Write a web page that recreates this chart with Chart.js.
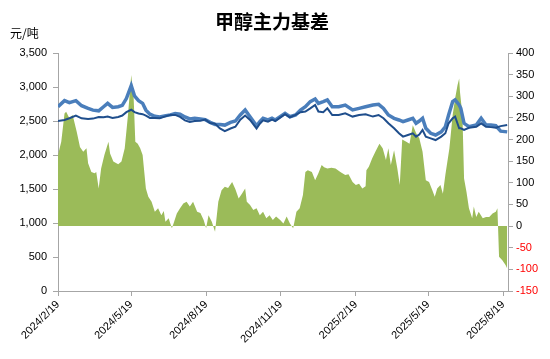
<!DOCTYPE html>
<html>
<head>
<meta charset="utf-8">
<script src="https://cdn.jsdelivr.net/npm/chart.js@4.4.1/dist/chart.umd.min.js"></script>
<style>
  html, body { margin: 0; padding: 0; background: #fff; }
  #wrap { width: 550px; height: 359px; }
</style>
</head>
<body>
<div id="wrap"><canvas id="basisChart" width="550" height="359"></canvas></div>
<script>
const chartTitle = '甲醇主力基差';
const unitLabel = '元/吨';
const tickLabels = ['2024/2/19', '2024/5/19', '2024/8/19', '2024/11/19', '2025/2/19', '2025/5/19', '2025/8/19'];
const lastDate = '2025-08-25';

// spot (light blue) and futures (dark blue), left axis
const lineDates = [
  '2024-02-19','2024-02-27','2024-03-04','2024-03-12','2024-03-19','2024-03-27','2024-04-02','2024-04-09',
  '2024-04-15','2024-04-20','2024-04-26','2024-05-03','2024-05-08','2024-05-13','2024-05-19','2024-05-23',
  '2024-05-28','2024-06-02','2024-06-06','2024-06-11','2024-06-17','2024-06-23','2024-06-29','2024-07-06',
  '2024-07-12','2024-07-18','2024-07-24','2024-07-30','2024-08-05','2024-08-12','2024-08-18','2024-08-24',
  '2024-08-30','2024-09-05','2024-09-11','2024-09-18','2024-09-24','2024-09-30','2024-10-06','2024-10-12',
  '2024-10-20','2024-10-24','2024-10-28','2024-11-03','2024-11-08','2024-11-12','2024-11-18','2024-11-24',
  '2024-11-30','2024-12-07','2024-12-13','2024-12-19','2024-12-25','2024-12-31','2025-01-04','2025-01-10',
  '2025-01-15','2025-01-21','2025-01-29','2025-02-06','2025-02-15','2025-02-23','2025-03-03','2025-03-12',
  '2025-03-19','2025-03-25','2025-03-31','2025-04-07','2025-04-13','2025-04-18','2025-04-24','2025-04-30',
  '2025-05-04','2025-05-08','2025-05-12','2025-05-16','2025-05-22','2025-05-28','2025-06-04','2025-06-09',
  '2025-06-13','2025-06-18','2025-06-21','2025-06-26','2025-06-28','2025-07-02','2025-07-08','2025-07-17',
  '2025-07-23','2025-07-29','2025-08-04','2025-08-10','2025-08-16','2025-08-24'
];
const spotPrice = [
  2710, 2800, 2770, 2800, 2725, 2685, 2660, 2650, 2710, 2760, 2700, 2710, 2730, 2830, 3020, 2870,
  2800, 2760, 2660, 2600, 2570, 2560, 2575, 2590, 2610, 2600, 2560, 2530, 2540, 2530, 2520, 2480,
  2450, 2450, 2440, 2480, 2500, 2588, 2662, 2563, 2430, 2490, 2540, 2515, 2540, 2515, 2565, 2613,
  2563, 2588, 2662, 2710, 2785, 2824, 2760, 2785, 2809, 2710, 2710, 2735, 2662, 2686, 2710, 2735,
  2745, 2686, 2588, 2540, 2515, 2490, 2515, 2540, 2466, 2500, 2540, 2392, 2319, 2294, 2340, 2416,
  2588, 2784, 2810, 2735, 2686, 2466, 2416, 2441, 2540, 2441, 2440, 2430, 2350, 2340
];
const futuresPrice = [
  2500, 2515, 2540, 2580, 2540, 2530, 2535, 2560, 2555, 2565, 2545, 2560, 2580, 2630, 2665, 2630,
  2610, 2600, 2580, 2545, 2545, 2540, 2565, 2590, 2590, 2560, 2510, 2485, 2500, 2505, 2520, 2470,
  2460, 2390, 2350, 2390, 2415, 2520, 2580, 2515, 2390, 2460, 2510, 2490, 2520, 2500, 2550, 2600,
  2555, 2590, 2630, 2640, 2686, 2735, 2640, 2630, 2686, 2588, 2588, 2613, 2565, 2588, 2600, 2565,
  2588, 2540, 2466, 2392, 2319, 2270, 2294, 2319, 2270, 2300, 2368, 2270, 2245, 2220, 2270, 2320,
  2466, 2540, 2565, 2392, 2392, 2370, 2400, 2416, 2466, 2416, 2410, 2400, 2425, 2440
];

// basis (green area), right axis
const basisDates = [
  '2024-02-19','2024-02-23','2024-02-27','2024-02-29','2024-03-04','2024-03-08','2024-03-13','2024-03-17',
  '2024-03-21','2024-03-25','2024-03-27','2024-03-31','2024-04-04','2024-04-06','2024-04-09','2024-04-12',
  '2024-04-16','2024-04-21','2024-04-23','2024-04-27','2024-05-03','2024-05-07','2024-05-11','2024-05-15',
  '2024-05-19','2024-05-22','2024-05-24','2024-05-27','2024-05-30','2024-06-02','2024-06-06','2024-06-09',
  '2024-06-13','2024-06-17','2024-06-21','2024-06-25','2024-06-28','2024-06-30','2024-07-04','2024-07-06',
  '2024-07-08','2024-07-10','2024-07-14','2024-07-18','2024-07-22','2024-07-26','2024-07-30','2024-08-03',
  '2024-08-08','2024-08-12','2024-08-16','2024-08-19','2024-08-22','2024-08-26','2024-08-30','2024-09-03',
  '2024-09-07','2024-09-11','2024-09-15','2024-09-20','2024-09-24','2024-09-28','2024-10-02','2024-10-06',
  '2024-10-08','2024-10-12','2024-10-16','2024-10-20','2024-10-24','2024-10-28','2024-11-01','2024-11-05',
  '2024-11-09','2024-11-13','2024-11-18','2024-11-22','2024-11-26','2024-11-30','2024-12-04','2024-12-08',
  '2024-12-12','2024-12-16','2024-12-19','2024-12-22','2024-12-27','2024-12-31','2025-01-04','2025-01-08',
  '2025-01-11','2025-01-15','2025-01-20','2025-01-25','2025-01-31','2025-02-06','2025-02-10','2025-02-15',
  '2025-02-19','2025-02-23','2025-02-27','2025-03-03','2025-03-04','2025-03-07','2025-03-11','2025-03-15',
  '2025-03-20','2025-03-24','2025-03-28','2025-03-31','2025-04-03','2025-04-07','2025-04-11','2025-04-14',
  '2025-04-17','2025-04-22','2025-04-26','2025-04-30','2025-05-04','2025-05-08','2025-05-12','2025-05-16',
  '2025-05-20','2025-05-24','2025-05-27','2025-05-30','2025-06-03','2025-06-06','2025-06-09','2025-06-14',
  '2025-06-18','2025-06-21','2025-06-24','2025-06-26','2025-06-27','2025-06-30','2025-07-02','2025-07-05',
  '2025-07-08','2025-07-12','2025-07-14','2025-07-17','2025-07-20','2025-07-25','2025-07-29','2025-08-02',
  '2025-08-06','2025-08-10','2025-08-12','2025-08-14','2025-08-18','2025-08-22','2025-08-24'
];
const basisValues = [
  164, 195, 260, 264, 249, 257, 218, 183,
  172, 180, 145, 125, 122, 125, 87, 133,
  164, 195, 168, 149, 143, 149, 180, 257,
  349, 295, 195, 190, 180, 164, 87, 68,
  56, 33, 41, 25, 35, 10, 18, 6,
  -5, 6, 29, 41, 52, 56, 45, 56,
  33, 30, 14, -5, 25, 10, -13, 56,
  83, 91, 88, 102, 85, 64, 75, 87,
  56, 49, 37, 41, 25, 33, 18, 25,
  14, 22, 14, 6, 22, 6, -5, 33,
  41, 72, 125, 129, 125, 106, 122, 141,
  136, 133, 135, 133, 125, 118, 120, 102,
  95, 98, 87, 92, 129, 137, 156, 172,
  190, 180, 153, 180, 141, 175, 133, 95,
  200, 195, 190, 233, 215, 203, 172, 106,
  102, 83, 68, 87, 95, 75, 118, 180,
  257, 295, 326, 341, 310, 257, 110, 79,
  41, 18, 45, 21, 33, 18, 21, 21,
  29, 33, 41, -71, -79, -90, -98
];

const startMs = Date.UTC(2024, 1, 19);
const toDay = s => {
  const p = s.split(/[-/]/).map(Number);
  return Math.round((Date.UTC(p[0], p[1] - 1, p[2]) - startMs) / 86400000);
};
const tickDays = tickLabels.map(toDay);
const toPoints = (dates, vals) => dates.map((d, i) => ({ x: toDay(d), y: vals[i] }));

const axisColor = '#a6a6a6';
const tickFont = { family: '"Liberation Sans", Arial, sans-serif', size: 11 };

const textPlugin = {
  id: 'texts',
  afterDraw(chart) {
    const ctx = chart.ctx;
    ctx.save();
    ctx.fillStyle = '#000';
    ctx.textBaseline = 'middle';
    ctx.textAlign = 'center';
    ctx.font = 'bold 19px "Noto Sans CJK SC", sans-serif';
    ctx.fillText(chartTitle, 272, 22);
    ctx.textAlign = 'left';
    ctx.font = '12px "Noto Sans CJK SC", sans-serif';
    ctx.fillText(unitLabel, 10, 33);
    ctx.restore();
  }
};

new Chart(document.getElementById('basisChart'), {
  type: 'line',
  data: {
    datasets: [
      {
        label: '基差',
        data: toPoints(basisDates, basisValues),
        yAxisID: 'y1',
        fill: 'origin',
        backgroundColor: '#9BBB59',
        borderWidth: 0,
        pointRadius: 0,
        order: 3
      },
      {
        label: '现货',
        data: toPoints(lineDates, spotPrice),
        yAxisID: 'y',
        borderColor: '#4A7EBB',
        borderWidth: 3.5,
        pointRadius: 0,
        fill: false,
        order: 2
      },
      {
        label: '期货',
        data: toPoints(lineDates, futuresPrice),
        yAxisID: 'y',
        borderColor: '#1F4E8C',
        borderWidth: 2,
        pointRadius: 0,
        fill: false,
        order: 1
      }
    ]
  },
  options: {
    responsive: false,
    animation: false,
    layout: { padding: { top: 53, left: 0, right: 0, bottom: 0 } },
    plugins: { legend: { display: false }, tooltip: { enabled: false } },
    scales: {
      x: {
        type: 'linear',
        min: 0,
        max: toDay(lastDate),
        afterBuildTicks: axis => { axis.ticks = tickDays.map(v => ({ value: v })); },
        afterFit: axis => { axis.height = 68; },
        ticks: {
          autoSkip: false,
          maxRotation: 45,
          minRotation: 45,
          color: '#000',
          font: tickFont,
          padding: 2,
          callback: v => tickLabels[tickDays.indexOf(v)]
        },
        grid: { display: true, drawOnChartArea: false, tickLength: 5, color: axisColor },
        border: { color: axisColor }
      },
      y: {
        position: 'left',
        min: 0,
        max: 3500,
        afterFit: axis => { axis.width = 58; },
        ticks: {
          stepSize: 500,
          color: '#000',
          font: tickFont,
          padding: 6,
          callback: v => v.toLocaleString('en-US')
        },
        grid: { display: true, drawOnChartArea: false, tickLength: 5, color: axisColor },
        border: { color: axisColor }
      },
      y1: {
        position: 'right',
        min: -150,
        max: 400,
        afterFit: axis => { axis.width = 42; },
        ticks: {
          stepSize: 50,
          font: tickFont,
          padding: 3,
          color: c => (c.tick && c.tick.value < 0 ? '#FF0000' : '#000')
        },
        grid: { display: true, drawOnChartArea: false, tickLength: 5, color: axisColor },
        border: { color: axisColor }
      }
    }
  },
  plugins: [textPlugin]
});
</script>
</body>
</html>
